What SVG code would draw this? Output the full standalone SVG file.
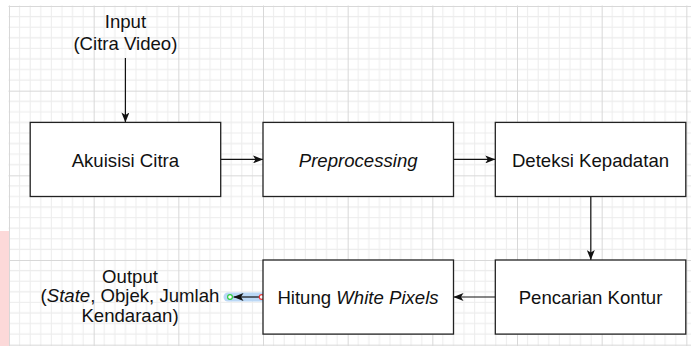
<svg xmlns="http://www.w3.org/2000/svg" width="691" height="346" viewBox="0 0 691 346">
<style>
.box{fill:#fff;stroke:#222;stroke-width:1.3}
.lbl{font-family:"Liberation Sans",Arial,sans-serif;font-size:18.6px;fill:#111;text-anchor:middle}
.edge{fill:none;stroke:#111;stroke-width:1.2}
</style>
<defs>
<pattern id="grid" x="9" y="6" width="84.667" height="84.667" patternUnits="userSpaceOnUse">
<g stroke="#ececec" stroke-width="1" fill="none">
<path d="M10.583,0V84.667M21.167,0V84.667M31.75,0V84.667M42.333,0V84.667M52.917,0V84.667M63.5,0V84.667M74.083,0V84.667"/>
<path d="M0,10.583H84.667M0,21.167H84.667M0,31.75H84.667M0,42.333H84.667M0,52.917H84.667M0,63.5H84.667M0,74.083H84.667"/>
</g>
<path d="M0.5,0V84.667M0,0.5H84.667" stroke="#d8d8d8" stroke-width="1" fill="none"/>
</pattern>
<marker id="arr" viewBox="0 0 10 8" refX="10" refY="4" markerWidth="10" markerHeight="8" markerUnits="userSpaceOnUse" orient="auto">
<path d="M0,0 L10,4 L0,8 L2.5,4 Z" fill="#111"/>
</marker>
</defs>
<rect width="691" height="346" fill="#fff"/>
<rect x="8.5" y="5.5" width="683" height="341" fill="url(#grid)"/>
<rect x="0" y="231" width="9" height="115" fill="#fcd9d9"/>

<g id="connectors">
<path class="edge" d="M125.4,58 V122.4" marker-end="url(#arr)"/>
<path class="edge" d="M220.7,159.4 H263" marker-end="url(#arr)"/>
<path class="edge" d="M453.5,159.4 H495.3" marker-end="url(#arr)"/>
<path class="edge" d="M590.8,196.5 V260" marker-end="url(#arr)"/>
<path class="edge" d="M495.3,297 H453.5" marker-end="url(#arr)"/>
<path d="M228,297 H264" stroke="#b4d4f5" stroke-width="9" stroke-linecap="round" opacity="0.9" fill="none"/>
<path class="edge" d="M262.5,297 H233.5" marker-end="url(#arr)"/>
<circle cx="261.7" cy="297" r="2.4" fill="#fff" stroke="#f03c3c" stroke-width="1.2"/>
<circle cx="230" cy="297" r="2.4" fill="#fff" stroke="#2ecc40" stroke-width="1.2"/>
</g>

<g id="input">
<text class="lbl" x="125.4" y="28.3">Input</text>
<text class="lbl" x="125.4" y="50">(Citra Video)</text>
</g>

<g id="akuisisi">
<rect class="box" x="30.2" y="122.4" width="190.5" height="74.1"/>
<text class="lbl" x="125.4" y="166.8">Akuisisi Citra</text>
</g>

<g id="preprocessing">
<rect class="box" x="263" y="122.4" width="190.5" height="74.1"/>
<text class="lbl" x="358.2" y="166.8" font-style="italic">Preprocessing</text>
</g>

<g id="deteksi">
<rect class="box" x="495.3" y="122.4" width="190.5" height="74.1"/>
<text class="lbl" x="590.5" y="166.8">Deteksi Kepadatan</text>
</g>

<g id="pencarian">
<rect class="box" x="495.3" y="260" width="190.5" height="74.1"/>
<text class="lbl" x="590.5" y="303.5">Pencarian Kontur</text>
</g>

<g id="hitung">
<rect class="box" x="263" y="260" width="190.5" height="74.1"/>
<text class="lbl" x="358" y="303.5">Hitung <tspan font-style="italic">White Pixels</tspan></text>
</g>

<g id="output">
<text class="lbl" x="130" y="283.3">Output</text>
<text class="lbl" x="130" y="302.3">(<tspan font-style="italic">State</tspan>, Objek, Jumlah</text>
<text class="lbl" x="130" y="321.5">Kendaraan)</text>
</g>
</svg>
